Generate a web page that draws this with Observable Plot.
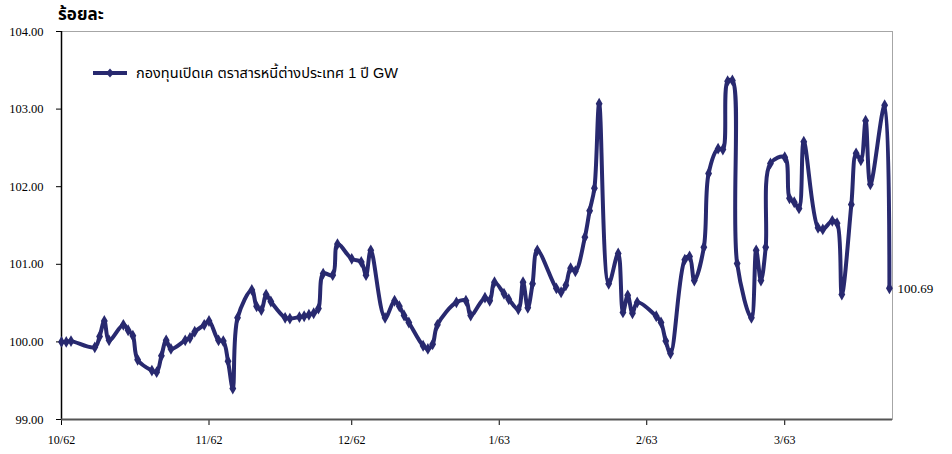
<!DOCTYPE html>
<html><head><meta charset="utf-8">
<script src="https://cdn.jsdelivr.net/npm/d3@7"></script>
<script src="https://cdn.jsdelivr.net/npm/@observablehq/plot@0.6"></script>
<style>
body{margin:0;background:#fff;}
#wrap{position:relative;width:952px;height:454px;overflow:hidden;}
#title{position:absolute;left:58px;top:5px;font:bold 17px "Liberation Sans","Noto Sans Thai","Noto Sans",sans-serif;color:#000;line-height:20px;}
#legend{position:absolute;left:92px;top:64px;display:flex;align-items:center;font:14.5px "Liberation Sans","Noto Sans Thai","Noto Sans",sans-serif;color:#000;line-height:18px;}
#legend svg{margin-right:8px;}
</style></head>
<body>
<div id="wrap"><div id="chart"></div>
<div id="title">ร้อยละ</div>
<div id="legend"><svg width="36" height="12"><line x1="1" x2="35" y1="6" y2="6" stroke="#28296f" stroke-width="4"/><path d="M18,1.5 L22,6 L18,10.5 L14,6Z" fill="#28296f"/></svg><span id="legtext"></span></div>
</div>
<script>
const seriesName = "กองทุนเปิดเค ตราสารหนี้ต่างประเทศ 1 ปี GW";
const titleText = "ร้อยละ";

const dates = [
 "2019-10-01","2019-10-02","2019-10-03","2019-10-08","2019-10-09","2019-10-10","2019-10-11","2019-10-14","2019-10-15","2019-10-16",
 "2019-10-17","2019-10-20","2019-10-21","2019-10-22","2019-10-23","2019-10-24","2019-10-27","2019-10-28","2019-10-29","2019-10-31",
 "2019-11-01","2019-11-03","2019-11-04","2019-11-05","2019-11-06","2019-11-07","2019-11-10","2019-11-11","2019-11-12","2019-11-13",
 "2019-11-14","2019-11-17","2019-11-18","2019-11-20","2019-11-21","2019-11-22","2019-11-23","2019-11-24","2019-11-25","2019-11-27",
 "2019-11-28","2019-12-01","2019-12-03","2019-12-04","2019-12-05","2019-12-08","2019-12-10","2019-12-11","2019-12-12","2019-12-13",
 "2019-12-16","2019-12-17","2019-12-18","2019-12-19","2019-12-23","2019-12-25","2019-12-26","2019-12-29","2019-12-30","2019-12-31",
 "2020-01-02","2020-01-03","2020-01-05","2020-01-06","2020-01-07","2020-01-08","2020-01-09","2020-01-13","2020-01-14","2020-01-15",
 "2020-01-16","2020-01-17","2020-01-19","2020-01-20","2020-01-21","2020-01-22","2020-01-24","2020-01-26","2020-01-27","2020-01-28",
 "2020-01-29","2020-01-30","2020-02-03","2020-02-04","2020-02-05","2020-02-06","2020-02-09","2020-02-10","2020-02-11","2020-02-13",
 "2020-02-14","2020-02-16","2020-02-17","2020-02-18","2020-02-19","2020-02-20","2020-02-23","2020-02-24","2020-02-25","2020-02-26",
 "2020-02-27","2020-03-01","2020-03-02","2020-03-03","2020-03-04","2020-03-05","2020-03-08","2020-03-09","2020-03-11","2020-03-12",
 "2020-03-13","2020-03-15","2020-03-16","2020-03-17","2020-03-18","2020-03-19","2020-03-22","2020-03-23"
];
const values = [
 100.00,100.00,100.01,99.93,100.07,100.27,100.02,100.22,100.15,100.08,
 99.77,99.63,99.61,99.82,100.02,99.91,100.02,100.05,100.13,100.22,
 100.27,100.02,100.01,99.75,99.40,100.31,100.67,100.46,100.41,100.61,
 100.52,100.31,100.30,100.32,100.33,100.35,100.37,100.43,100.88,100.86,
 101.26,101.07,101.03,100.86,101.18,100.31,100.53,100.46,100.34,100.25,
 99.95,99.91,99.97,100.22,100.51,100.53,100.34,100.57,100.53,100.77,
 100.62,100.55,100.42,100.77,100.44,100.75,101.18,100.69,100.64,100.73,
 100.95,100.91,101.35,101.69,101.98,103.07,100.75,101.14,100.38,100.60,
 100.37,100.51,100.33,100.25,100.01,99.85,101.06,101.10,100.79,101.22,
 102.17,102.49,102.48,103.36,103.37,101.01,100.31,101.18,100.79,101.22,
 102.30,102.38,101.85,101.80,101.72,102.58,101.47,101.45,101.56,101.53,
 100.61,101.77,102.43,102.34,102.85,102.03,103.05,100.69
];
const monthTicks = ["2019-10-01","2019-11-01","2019-12-01","2020-01-01","2020-02-01","2020-03-01"];
const monthLabels = ["10/62","11/62","12/62","1/63","2/63","3/63"];
const yTicks = [99,100,101,102,103,104];

document.getElementById("legtext").textContent = seriesName;
document.getElementById("title").textContent = titleText;

const NAVY = "#28296f";
const data = dates.map((d,i)=>({date:new Date(d+"T00:00:00Z"), value:values[i]}));
const tickDates = monthTicks.map(d=>new Date(d+"T00:00:00Z"));
const start = tickDates[0];
const end = new Date(+start + 174.65*864e5);
const last = data[data.length-1];

const chart = Plot.plot({
  width:952, height:454,
  marginLeft:61, marginRight:60, marginTop:31, marginBottom:35,
  style:{fontFamily:'"Liberation Serif","Times New Roman",serif', fontSize:"12px", color:"#000", background:"#fff"},
  x:{type:"utc", domain:[start,end]},
  y:{domain:[99,104]},
  marks:[
    Plot.frame({stroke:"#a6a6a6"}),
    Plot.axisX({ticks:tickDates, tickFormat:(d)=>monthLabels[tickDates.findIndex(t=>+t===+d)], tickSize:6, tickPadding:10, label:null, fontSize:12}),
    Plot.axisY({ticks:yTicks, tickFormat:d=>d.toFixed(2), tickSize:5, tickPadding:13, label:null, fontSize:12.5}),
    Plot.ruleX([start],{stroke:"#000", strokeWidth:1.5}),
    Plot.ruleY([99],{stroke:"#555", strokeWidth:2}),
    Plot.line(data,{x:"date", y:"value", curve:"catmull-rom", stroke:NAVY, strokeWidth:4, strokeLinejoin:"round"}),
    Plot.dot(data,{x:"date", y:"value", symbol:"diamond", r:3.6, fill:NAVY, stroke:null}),
    Plot.text([last],{x:"date", y:"value", text:d=>d.value.toFixed(2), dx:8, textAnchor:"start", fontSize:13, fill:"#000"})
  ]
});
document.getElementById("chart").appendChild(chart);
</script>
</body></html>
